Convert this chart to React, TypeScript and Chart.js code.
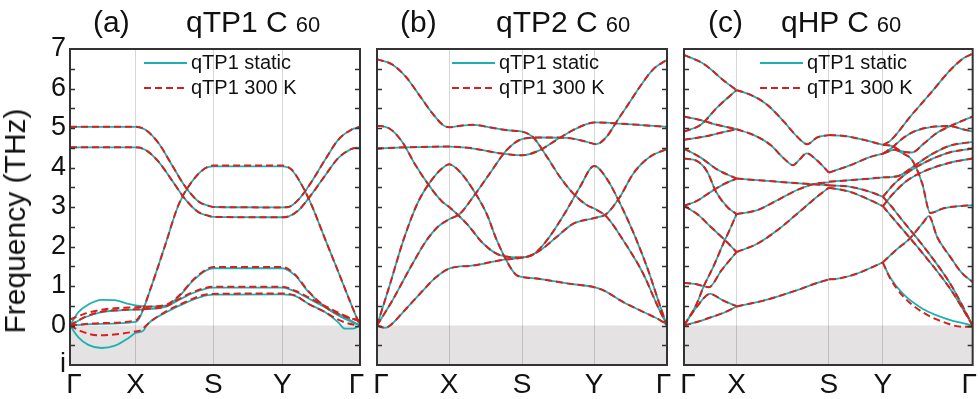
import React, { useEffect, useRef } from 'react';
import { Chart, registerables } from 'chart.js';

Chart.register(...registerables);

type Pt = [number, number];

// ---------- shared labels ----------
const pathLabels = ['Γ', 'X', 'S', 'Y', 'Γ'];
const legendLabels = ['qTP1 static', 'qTP1 300 K'];
const yMin = -1;
const yMax = 7;

// ---------- high-symmetry node positions (fraction of path) ----------
const nodesA = [0, 0.226, 0.494, 0.732, 1];
const nodesB = [0, 0.249, 0.5, 0.749, 1];
const nodesC = [0, 0.182, 0.502, 0.689, 1];

// ---------- panel (a) qTP1 ----------
const a1: Pt[] = [[0, 5.03], [0.226, 5.03], [0.259, 4.96], [0.305, 4.62], [0.351, 4.07], [0.397, 3.52], [0.443, 3.14], [0.477, 3.03], [0.494, 3.0], [0.732, 2.99], [0.753, 3.0], [0.787, 3.18], [0.833, 3.64], [0.879, 4.19], [0.925, 4.7], [0.971, 4.96], [1, 5.03]];
const a2: Pt[] = [[0, 4.51], [0.226, 4.51], [0.259, 4.45], [0.305, 4.15], [0.351, 3.68], [0.397, 3.2], [0.443, 2.87], [0.477, 2.78], [0.494, 2.75], [0.732, 2.74], [0.753, 2.76], [0.787, 2.91], [0.833, 3.32], [0.879, 3.79], [0.925, 4.24], [0.971, 4.47], [1, 4.51]];
const a3Static: Pt[] = [[0, 0], [0.1, 0.04], [0.226, 0.09], [0.241, 0.21], [0.282, 1.02], [0.328, 2.03], [0.374, 3.05], [0.42, 3.64], [0.466, 3.98], [0.494, 4.03], [0.732, 4.03], [0.764, 3.94], [0.799, 3.56], [0.833, 3.05], [0.879, 2.2], [0.925, 1.36], [0.971, 0.51], [1, 0]];
const a3Hot: Pt[] = [[0, 0], [0.1, 0.06], [0.226, 0.13], [0.243, 0.27], [0.282, 1.02], [0.328, 2.03], [0.374, 3.05], [0.42, 3.64], [0.466, 3.98], [0.494, 4.05], [0.732, 4.05], [0.764, 3.95], [0.799, 3.56], [0.833, 3.05], [0.879, 2.2], [0.925, 1.36], [0.971, 0.51], [1, 0]];
const a4Static: Pt[] = [[0, 0], [0.029, -0.3], [0.063, -0.49], [0.109, -0.57], [0.155, -0.51], [0.201, -0.32], [0.226, -0.19], [0.253, -0.13], [0.264, 0], [0.276, 0.09], [0.33, 0.33], [0.4, 0.58], [0.45, 0.72], [0.494, 0.78], [0.732, 0.79], [0.776, 0.75], [0.822, 0.55], [0.879, 0.34], [0.925, 0.08], [0.948, -0.08], [0.977, -0.08], [1, 0]];
const a4Hot: Pt[] = [[0, 0], [0.04, -0.15], [0.1, -0.25], [0.16, -0.22], [0.226, -0.15], [0.245, -0.12], [0.26, -0.02], [0.276, 0.09], [0.33, 0.35], [0.4, 0.6], [0.45, 0.75], [0.494, 0.8], [0.732, 0.81], [0.776, 0.76], [0.822, 0.55], [0.879, 0.34], [0.925, 0.15], [0.96, 0.05], [1, 0]];
const a5Static: Pt[] = [[0, 0], [0.029, 0.34], [0.063, 0.53], [0.109, 0.65], [0.155, 0.64], [0.201, 0.55], [0.226, 0.51], [0.282, 0.48], [0.333, 0.51], [0.379, 0.76], [0.425, 1.14], [0.471, 1.4], [0.494, 1.45], [0.732, 1.45], [0.776, 1.27], [0.822, 0.85], [0.879, 0.47], [0.937, 0.21], [1, 0]];
const a5Hot: Pt[] = [[0, 0.15], [0.052, 0.3], [0.109, 0.4], [0.167, 0.44], [0.226, 0.46], [0.282, 0.48], [0.333, 0.53], [0.379, 0.78], [0.425, 1.16], [0.471, 1.42], [0.494, 1.48], [0.732, 1.48], [0.776, 1.29], [0.822, 0.87], [0.879, 0.48], [0.937, 0.25], [1, 0.13]];
const a6Static: Pt[] = [[0, 0], [0.052, 0.21], [0.109, 0.34], [0.167, 0.38], [0.226, 0.4], [0.282, 0.42], [0.328, 0.47], [0.374, 0.64], [0.42, 0.81], [0.466, 0.93], [0.494, 0.96], [0.732, 0.96], [0.776, 0.86], [0.833, 0.64], [0.891, 0.42], [0.948, 0.21], [1, 0]];
const a6Hot: Pt[] = [[0, 0], [0.052, 0.22], [0.109, 0.35], [0.167, 0.39], [0.226, 0.41], [0.282, 0.43], [0.328, 0.48], [0.374, 0.66], [0.42, 0.83], [0.466, 0.95], [0.494, 0.98], [0.732, 0.98], [0.776, 0.88], [0.833, 0.67], [0.891, 0.45], [0.948, 0.25], [1, 0.1]];

// ---------- panel (b) qTP2 ----------
const b1: Pt[] = [[0, 6.74], [0.052, 6.61], [0.098, 6.31], [0.144, 5.85], [0.19, 5.38], [0.23, 5.06], [0.249, 5.02], [0.29, 5.06], [0.332, 5.08], [0.38, 5.03], [0.424, 4.97], [0.47, 4.93], [0.5, 4.91], [0.539, 4.76], [0.586, 4.27], [0.631, 3.76], [0.677, 3.34], [0.723, 3.05], [0.749, 2.96], [0.792, 2.75], [0.849, 2.16], [0.918, 1.31], [0.964, 0.55], [1, 0]];
const b2: Pt[] = [[0, 5.06], [0.04, 5.0], [0.086, 4.66], [0.132, 4.07], [0.178, 3.56], [0.224, 3.14], [0.249, 3.0], [0.309, 2.58], [0.367, 2.07], [0.424, 1.78], [0.5, 1.72], [0.562, 1.9], [0.619, 2.24], [0.677, 2.58], [0.749, 2.72], [0.792, 2.83], [0.838, 3.26], [0.884, 3.85], [0.941, 4.27], [1, 4.47]];
const b3: Pt[] = [[0, 4.48], [0.098, 4.51], [0.249, 4.53], [0.332, 4.48], [0.424, 4.36], [0.5, 4.31], [0.562, 4.44], [0.619, 4.7], [0.677, 4.95], [0.723, 5.1], [0.749, 5.14], [0.861, 5.1], [1, 5.03]];
const b4: Pt[] = [[0, 0], [0.045, 1.05], [0.091, 2.16], [0.14, 3.1], [0.19, 3.7], [0.225, 3.98], [0.249, 4.08], [0.286, 3.89], [0.332, 3.43], [0.378, 2.83], [0.413, 2.16], [0.459, 1.48], [0.482, 1.27], [0.52, 1.21], [0.55, 1.19], [0.66, 1.06], [0.749, 0.97], [0.781, 0.89], [0.85, 0.59], [0.919, 0.34], [0.988, 0.08], [1, 0]];
const b5: Pt[] = [[0, 0], [0.052, 0.62], [0.11, 1.4], [0.171, 2.16], [0.21, 2.5], [0.249, 2.69], [0.286, 2.83], [0.332, 3.26], [0.389, 3.85], [0.447, 4.44], [0.5, 4.72], [0.562, 4.76], [0.654, 4.75], [0.723, 4.65], [0.757, 4.59], [0.792, 4.78], [0.826, 5.16], [0.861, 5.54], [0.907, 6.05], [0.953, 6.49], [1, 6.73]];
const b6: Pt[] = [[0, 0], [0.028, -0.06], [0.045, 0], [0.09, 0.34], [0.159, 0.89], [0.2, 1.2], [0.249, 1.44], [0.332, 1.52], [0.424, 1.65], [0.5, 1.72], [0.539, 1.8], [0.586, 2.16], [0.654, 2.92], [0.7, 3.51], [0.749, 4.04], [0.792, 3.72], [0.838, 3.09], [0.89, 2.25], [0.935, 1.4], [0.976, 0.5], [1, 0]];

// ---------- panel (c) qHP, by path segment ----------
const cGammaX: Pt[][] = [
  [[0, 6.85], [0.069, 6.62], [0.138, 6.2], [0.182, 5.96]],
  [[0, 4.91], [0.058, 5.08], [0.115, 5.52], [0.182, 5.96]],
  [[0, 5.29], [0.058, 5.2], [0.115, 5.08], [0.182, 4.97]],
  [[0, 4.7], [0.069, 4.78], [0.127, 4.88], [0.182, 4.97]],
  [[0, 4.48], [0.058, 4.25], [0.115, 3.95], [0.182, 3.72]],
  [[0, 3.03], [0.046, 3.16], [0.092, 3.38], [0.138, 3.58], [0.182, 3.72]],
  [[0, 4.23], [0.046, 4.16], [0.08, 3.9], [0.11, 3.4], [0.15, 3.0], [0.182, 2.82]],
  [[0, 3.03], [0.046, 2.82], [0.092, 2.5], [0.142, 2.16], [0.182, 1.86]],
  [[0, 1.08], [0.04, 1.05], [0.086, 0.97], [0.13, 1.4], [0.182, 1.86]],
  [[0, 0], [0.044, 0.55], [0.067, 0.97], [0.101, 1.48], [0.136, 2.07], [0.16, 2.45], [0.182, 2.82]],
  [[0, 0], [0.044, 0.47], [0.09, 0.8], [0.136, 0.63], [0.182, 0.49]],
  [[0, 0], [0.045, 0.09], [0.09, 0.2], [0.14, 0.33], [0.182, 0.48]],
];
const cXS: Pt[][] = [
  [[0.182, 5.96], [0.231, 5.84], [0.288, 5.59], [0.346, 5.16], [0.392, 4.78], [0.427, 4.59], [0.461, 4.76], [0.502, 4.82]],
  [[0.182, 4.97], [0.242, 4.82], [0.3, 4.57], [0.346, 4.23], [0.378, 4.06], [0.4, 4.2], [0.425, 4.36], [0.461, 4.18], [0.502, 3.87]],
  [[0.182, 3.72], [0.29, 3.66], [0.4, 3.6], [0.502, 3.55]],
  [[0.182, 2.82], [0.254, 2.92], [0.323, 3.17], [0.392, 3.43], [0.461, 3.6], [0.502, 3.62]],
  [[0.182, 1.86], [0.254, 2.07], [0.323, 2.41], [0.392, 2.83], [0.461, 3.26], [0.502, 3.49]],
  [[0.182, 0.48], [0.275, 0.63], [0.39, 0.89], [0.45, 1.05], [0.502, 1.17]],
];
const cSY: Pt[][] = [
  [[0.502, 4.82], [0.554, 4.8], [0.623, 4.7], [0.689, 4.57]],
  [[0.502, 3.87], [0.577, 4.06], [0.646, 4.27], [0.689, 4.35]],
  [[0.502, 3.64], [0.577, 3.68], [0.646, 3.72], [0.689, 3.75]],
  [[0.502, 3.55], [0.577, 3.51], [0.646, 3.38], [0.689, 3.26]],
  [[0.502, 3.49], [0.577, 3.38], [0.646, 3.17], [0.689, 3.02]],
  [[0.502, 1.17], [0.529, 1.18], [0.598, 1.31], [0.689, 1.6]],
];
const cYGamma: Pt[][] = [
  [[0.689, 4.57], [0.715, 4.68], [0.784, 5.29], [0.854, 5.88], [0.923, 6.47], [0.969, 6.77], [1, 6.88]],
  [[0.689, 4.57], [0.72, 4.55], [0.75, 4.42], [0.79, 4.38], [0.83, 4.6], [0.877, 4.88], [0.923, 5.05], [0.96, 5.17], [1, 5.29]],
  [[0.689, 4.35], [0.72, 4.5], [0.76, 4.75], [0.8, 4.92], [0.86, 5.03], [0.923, 5.05], [0.96, 4.98], [1, 4.91]],
  [[0.689, 3.75], [0.74, 3.78], [0.79, 4.0], [0.85, 4.3], [0.92, 4.55], [1, 4.65]],
  [[0.689, 3.26], [0.73, 3.6], [0.78, 3.9], [0.84, 4.15], [0.92, 4.38], [1, 4.48]],
  [[0.689, 3.02], [0.72, 3.3], [0.77, 3.65], [0.83, 3.9], [0.92, 4.12], [1, 4.23]],
  [[0.689, 4.35], [0.73, 4.45], [0.76, 4.35], [0.79, 4.19], [0.825, 3.6], [0.853, 2.85], [0.9, 2.97], [0.95, 3.02], [1, 3.05]],
  [[0.689, 1.6], [0.736, 1.92], [0.782, 2.2], [0.83, 2.62], [0.848, 2.77], [0.877, 2.24], [0.923, 1.73], [0.96, 1.35], [1, 1.1]],
  [[0.689, 1.59], [0.713, 1.23], [0.759, 0.8], [0.828, 0.42], [0.909, 0.17], [1, 0]],
  [[0.689, 3.02], [0.72, 2.75], [0.761, 2.4], [0.83, 1.8], [0.923, 0.92], [1, 0]],
  [[0.689, 3.26], [0.72, 3.0], [0.761, 2.62], [0.83, 2.0], [0.923, 1.05], [1, 0]],
];
const cYGammaHotLow: Pt[] = [[0.689, 1.59], [0.713, 1.21], [0.759, 0.74], [0.828, 0.33], [0.909, 0.06], [0.96, -0.03], [1, -0.03]];

// ---------- styling ----------
const FONT = "'Liberation Sans', Arial, Helvetica, sans-serif";
const CYAN = '#1cb1b1';
const RED = '#d61f1f';
const FRAME = '#333333';
const GRID = 'rgba(0,0,0,0.16)';
const SHADE = '#e4e2e3';

type PanelProps = {
  canvasLeft: number;
  canvasWidth: number;
  padLeft: number;
  padRight: number;
  nodes: number[];
  staticBands: Pt[][];
  hotBands: Pt[][];
  showY: boolean;
  legendOffset: number;
};

function Panel(props: PanelProps) {
  const ref = useRef<HTMLCanvasElement | null>(null);
  useEffect(() => {
    const { nodes, staticBands, hotBands, showY, legendOffset } = props;
    const toData = (b: Pt[]) => b.map(([x, y]) => ({ x, y }));
    const datasets: any[] = [];
    hotBands.forEach((b) =>
      datasets.push({
        data: toData(b),
        borderColor: RED,
        borderWidth: 2,
        borderDash: [7, 4],
        pointRadius: 0,
        cubicInterpolationMode: 'monotone',
        fill: false,
        order: 0,
      })
    );
    staticBands.forEach((b) =>
      datasets.push({
        data: toData(b),
        borderColor: CYAN,
        borderWidth: 1.8,
        pointRadius: 0,
        cubicInterpolationMode: 'monotone',
        fill: false,
        order: 1,
      })
    );
    const tickVals = [0.014, nodes[1], nodes[2], nodes[3], 0.988];

    const deco = {
      id: 'deco',
      beforeDraw(chart: any) {
        const { ctx, chartArea } = chart;
        const y = chart.scales.y;
        const y0 = y.getPixelForValue(0);
        const y1 = y.getPixelForValue(yMin);
        ctx.save();
        ctx.fillStyle = SHADE;
        ctx.fillRect(chartArea.left, y0, chartArea.right - chartArea.left, y1 - y0);
        ctx.restore();
      },
      afterDraw(chart: any) {
        const { ctx, chartArea } = chart;
        const { left, right, top, bottom } = chartArea;
        const y = chart.scales.y;
        ctx.save();
        ctx.strokeStyle = FRAME;
        ctx.lineWidth = 1.5;
        for (let v = yMin + 0.5; v < yMax; v += 0.5) {
          const py = Math.round(y.getPixelForValue(v)) + 0.5;
          ctx.beginPath();
          ctx.moveTo(left, py);
          ctx.lineTo(left + 5, py);
          ctx.moveTo(right, py);
          ctx.lineTo(right - 5, py);
          ctx.stroke();
        }
        ctx.lineWidth = 2;
        ctx.strokeRect(left, top, right - left, bottom - top);
        // legend
        const lx = left + legendOffset;
        const rows = [top + 14, top + 39];
        ctx.lineWidth = 2;
        ctx.strokeStyle = CYAN;
        ctx.beginPath();
        ctx.moveTo(lx, rows[0]);
        ctx.lineTo(lx + 43, rows[0]);
        ctx.stroke();
        ctx.strokeStyle = RED;
        ctx.setLineDash([7, 4]);
        ctx.beginPath();
        ctx.moveTo(lx, rows[1]);
        ctx.lineTo(lx + 43, rows[1]);
        ctx.stroke();
        ctx.setLineDash([]);
        ctx.fillStyle = '#111';
        ctx.font = `20px ${FONT}`;
        ctx.textBaseline = 'middle';
        ctx.textAlign = 'left';
        ctx.fillText(legendLabels[0], lx + 47, rows[0]);
        ctx.fillText(legendLabels[1], lx + 47, rows[1]);
        ctx.restore();
      },
    };

    const chart = new Chart(ref.current as HTMLCanvasElement, {
      type: 'line',
      data: { datasets },
      options: {
        animation: false,
        responsive: false,
        events: [],
        layout: { padding: { left: props.padLeft, right: props.padRight, top: 49, bottom: 0 } },
        plugins: { legend: { display: false }, tooltip: { enabled: false } },
        scales: {
          x: {
            type: 'linear',
            min: 0,
            max: 1,
            afterBuildTicks: (s: any) => {
              s.ticks = tickVals.map((value) => ({ value }));
            },
            afterFit: (s: any) => {
              s.height = 34;
            },
            ticks: {
              autoSkip: false,
              maxRotation: 0,
              padding: 3,
              color: '#111',
              font: { family: FONT, size: 28 },
              callback: (_v: any, i: number) => pathLabels[i],
            },
            grid: {
              drawTicks: false,
              lineWidth: 1,
              color: (c: any) => (c.index === 0 || c.index === 4 ? 'rgba(0,0,0,0)' : GRID),
            },
            border: { display: false },
          },
          y: {
            type: 'linear',
            min: yMin,
            max: yMax,
            display: showY,
            afterFit: (s: any) => {
              if (showY) s.width = 70;
            },
            ticks: {
              stepSize: 0.5,
              autoSkip: false,
              padding: 4,
              color: '#111',
              font: { family: FONT, size: 27 },
              callback: (v: any) => (v === -1 ? 'i' : Number.isInteger(v) ? String(v) : ''),
            },
            grid: { display: false, drawTicks: false },
            border: { display: false },
          },
        },
      } as any,
      plugins: [deco],
    });
    return () => chart.destroy();
  }, []);
  return (
    <canvas
      ref={ref}
      width={props.canvasWidth}
      height={399}
      style={{ position: 'absolute', left: props.canvasLeft, top: 0, width: props.canvasWidth, height: 399 }}
    />
  );
}

function Title({ left, tag, tagLeft, name }: { left: number; tag: string; tagLeft: number; name: string }) {
  const base: React.CSSProperties = {
    position: 'absolute',
    top: 7,
    fontSize: 30,
    lineHeight: '30px',
    whiteSpace: 'pre',
    color: '#111',
    fontFamily: FONT,
  };
  return (
    <>
      <div style={{ ...base, left: tagLeft }}>{tag}</div>
      <div style={{ ...base, left }}>
        {name} C<span style={{ fontSize: 22, marginLeft: 8 }}>60</span>
      </div>
    </>
  );
}

export default function App() {
  const cStatic = [...cGammaX, ...cXS, ...cSY, ...cYGamma];
  const cHot = [...cGammaX, ...cXS, ...cSY, ...cYGamma.slice(0, 8), cYGammaHotLow, ...cYGamma.slice(9)];
  return (
    <div style={{ position: 'absolute', left: 0, top: 0, width: 980, height: 399, background: '#fff', overflow: 'hidden', fontFamily: FONT }}>
      <Panel
        canvasLeft={0}
        canvasWidth={370}
        padLeft={0}
        padRight={10}
        nodes={nodesA}
        staticBands={[a1, a2, a3Static, a4Static, a5Static, a6Static]}
        hotBands={[a1, a2, a3Hot, a4Hot, a5Hot, a6Hot]}
        showY={true}
        legendOffset={74}
      />
      <Panel
        canvasLeft={365}
        canvasWidth={310}
        padLeft={12}
        padRight={8}
        nodes={nodesB}
        staticBands={[b1, b2, b3, b4, b5, b6]}
        hotBands={[b1, b2, b3, b4, b5, b6]}
        showY={false}
        legendOffset={75}
      />
      <Panel
        canvasLeft={672}
        canvasWidth={308}
        padLeft={12}
        padRight={7}
        nodes={nodesC}
        staticBands={cStatic}
        hotBands={cHot}
        showY={false}
        legendOffset={76}
      />
      <Title tagLeft={93} tag="(a)" left={186} name="qTP1" />
      <Title tagLeft={400} tag="(b)" left={496} name="qTP2" />
      <Title tagLeft={708} tag="(c)" left={781} name="qHP" />
      <div
        style={{
          position: 'absolute',
          left: 15,
          top: 221,
          transform: 'translate(-50%, -50%) rotate(-90deg)',
          fontSize: 30,
          lineHeight: '30px',
          whiteSpace: 'nowrap',
          color: '#111',
          fontFamily: FONT,
        }}
      >
        Frequency (THz)
      </div>
    </div>
  );
}
